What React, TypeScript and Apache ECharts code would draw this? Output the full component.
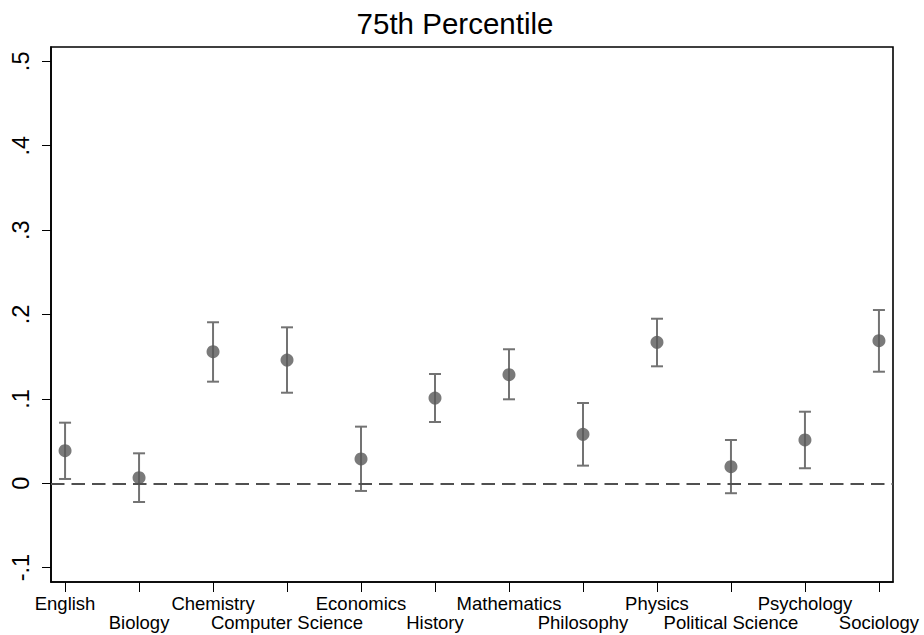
import React, { useEffect, useRef } from "react";
import * as echarts from "echarts";

const categories = [
  "English", "Biology", "Chemistry", "Computer Science", "Economics", "History",
  "Mathematics", "Philosophy", "Physics", "Political Science", "Psychology", "Sociology",
];
const estimates = [0.0386, 0.0066, 0.156, 0.146, 0.0288, 0.101, 0.1287, 0.058, 0.167, 0.0197, 0.0513, 0.169];
const lower = [0.0051, -0.0222, 0.1204, 0.1073, -0.0091, 0.0726, 0.0995, 0.0209, 0.1386, -0.0118, 0.0178, 0.1322];
const upper = [0.0718, 0.0355, 0.1908, 0.1848, 0.0671, 0.1295, 0.1588, 0.0951, 0.195, 0.0513, 0.0848, 0.2053];
const yTicks = [-0.1, 0, 0.1, 0.2, 0.3, 0.4, 0.5];
const yTickLabels = ["-.1", "0", ".1", ".2", ".3", ".4", ".5"];
const title = "75th Percentile";

export default function App() {
  const ref = useRef<HTMLDivElement>(null);
  useEffect(() => {
    if (!ref.current) return;
    const chart = echarts.init(ref.current, undefined, { renderer: "svg" });
    const xIdx = categories.map((_, i) => i);
    const evenIdx = xIdx.filter((i) => i % 2 === 0);
    const oddIdx = xIdx.filter((i) => i % 2 === 1);
    const font = "'Liberation Sans', Arial, sans-serif";
    const labelBase = {
      showMaxLabel: true,
      showMinLabel: true,
      hideOverlap: false,
      fontFamily: font,
      fontSize: 18.5,
      color: "#000",
      lineHeight: 18.3,
      formatter: (v: number) => categories[Math.round(v)] ?? "",
    };
    chart.setOption({
      animation: false,
      backgroundColor: "#ffffff",
      title: {
        text: title,
        left: 450,
        top: 3,
        textAlign: "center",
        textStyle: { fontFamily: font, fontSize: 29.5, fontWeight: "normal", color: "#000" },
      },
      grid: {
        left: 51,
        right: 31,
        top: 47,
        bottom: 53,
        show: true,
        borderColor: "#000",
        borderWidth: 1.6,
        containLabel: false,
      },
      xAxis: [
        {
          type: "value",
          min: -0.19,
          max: 11.19,
          splitLine: { show: false },
          axisLine: { show: true, onZero: false, lineStyle: { color: "#000", width: 1.6 } },
          axisTick: {
            show: true,
            length: 10,
            customValues: xIdx,
            lineStyle: { color: "#000", width: 1 },
          },
          axisLabel: { ...labelBase, customValues: evenIdx, margin: 12 },
        },
        {
          type: "value",
          position: "bottom",
          offset: 0,
          min: -0.19,
          max: 11.19,
          splitLine: { show: false },
          axisLine: { show: false, onZero: false },
          axisTick: { show: false },
          axisLabel: { ...labelBase, customValues: oddIdx, margin: 31 },
        },
      ],
      yAxis: {
        type: "value",
        min: -0.117,
        max: 0.517,
        splitLine: { show: false },
        axisLine: { show: true, onZero: false, lineStyle: { color: "#000", width: 1.6 } },
        axisTick: {
          show: true,
          length: 9,
          customValues: yTicks,
          lineStyle: { color: "#000", width: 1 },
        },
        axisLabel: {
          customValues: yTicks,
          showMaxLabel: true,
          showMinLabel: true,
          rotate: 90,
          margin: 18,
          fontFamily: font,
          fontSize: 23.5,
          color: "#000",
          formatter: (v: number) => {
            const k = yTicks.findIndex((t) => Math.abs(t - v) < 1e-6);
            return k >= 0 ? yTickLabels[k] : "";
          },
        },
      },
      series: [
        {
          type: "custom",
          xAxisIndex: 0,
          data: xIdx.map((i) => [i, lower[i], upper[i]]),
          renderItem: (params: any, api: any) => {
            const x = api.value(0);
            const lo = api.coord([x, api.value(1)]);
            const hi = api.coord([x, api.value(2)]);
            const hw = 6;
            const style = { stroke: "#737373", lineWidth: 2 };
            return {
              type: "group",
              children: [
                { type: "line", shape: { x1: lo[0], y1: lo[1], x2: hi[0], y2: hi[1] }, style },
                { type: "line", shape: { x1: lo[0] - hw, y1: lo[1], x2: lo[0] + hw, y2: lo[1] }, style },
                { type: "line", shape: { x1: hi[0] - hw, y1: hi[1], x2: hi[0] + hw, y2: hi[1] }, style },
              ],
            };
          },
          z: 2,
          markLine: {
            silent: true,
            symbol: "none",
            label: { show: false },
            lineStyle: { color: "#505050", width: 2, type: [13.5, 7] },
            data: [{ yAxis: 0 }],
          },
        },
        {
          type: "scatter",
          xAxisIndex: 0,
          data: xIdx.map((i) => [i, estimates[i]]),
          symbol: "circle",
          symbolSize: 13,
          itemStyle: { color: "#595959" },
          z: 3,
        },
      ],
    });
    return () => chart.dispose();
  }, []);
  return <div ref={ref} style={{ position: "fixed", left: 0, top: 0, width: 924, height: 635 }} />;
}
